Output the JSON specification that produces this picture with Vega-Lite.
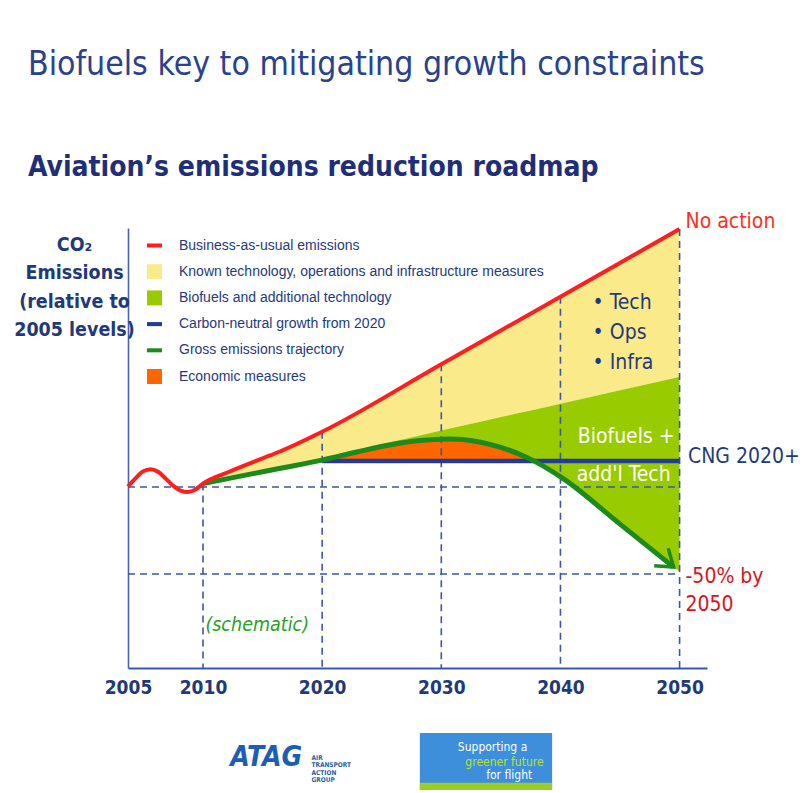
{
  "$schema": "https://vega.github.io/schema/vega-lite/v6.json",
  "width": 579,
  "height": 440,
  "autosize": "none",
  "padding": {"left": 128, "top": 228, "right": 96, "bottom": 125},
  "background": "white",
  "config": {"view": {"stroke": null}},
  "title": {
    "text": "Biofuels key to mitigating growth constraints",
    "subtitle": "Aviation’s emissions reduction roadmap",
    "anchor": "start",
    "frame": "group",
    "dx": -100,
    "offset": 28,
    "font": "DejaVu Sans Condensed, sans-serif",
    "fontSize": 33.5,
    "fontWeight": "normal",
    "color": "#2a4190",
    "subtitleFont": "DejaVu Sans Condensed, sans-serif",
    "subtitleFontSize": 28,
    "subtitleFontWeight": "bold",
    "subtitleColor": "#1e2f7a",
    "subtitlePadding": 72
  },
  "datasets": {
    "bands": [
      {"year": 2010, "bau": 102, "known": 102, "gross": 102, "cng": null},
      {"year": 2012.2, "bau": 108.8, "known": 105.2, "gross": 105.0, "cng": null},
      {"year": 2015, "bau": 116.5, "known": 109.3, "gross": 108.8, "cng": null},
      {"year": 2016.4, "bau": 120.3, "known": 111.4, "gross": 110.7, "cng": null},
      {"year": 2020, "bau": 131.8, "known": 117.0, "gross": 115.5, "cng": 115},
      {"year": 2023, "bau": 143.4, "known": 121.6, "gross": 120.3, "cng": 115},
      {"year": 2026, "bau": 155.1, "known": 126.3, "gross": 124.6, "cng": 115},
      {"year": 2028, "bau": 162.9, "known": 129.4, "gross": 126.6, "cng": 115},
      {"year": 2030.7, "bau": 173.3, "known": 133.6, "gross": 127.6, "cng": 115},
      {"year": 2033, "bau": 182.3, "known": 137.1, "gross": 126.2, "cng": 115},
      {"year": 2035, "bau": 190.0, "known": 140.2, "gross": 122.8, "cng": 115},
      {"year": 2037, "bau": 197.8, "known": 143.3, "gross": 117.6, "cng": 115},
      {"year": 2037.8, "bau": 200.9, "known": 144.5, "gross": 114.9, "cng": 115},
      {"year": 2040.2, "bau": 210.2, "known": 148.2, "gross": 105.0, "cng": 115},
      {"year": 2045, "bau": 228.9, "known": 155.7, "gross": 78.7, "cng": 115},
      {"year": 2049.5, "bau": 246.4, "known": 162.6, "gross": 54.0, "cng": 115},
      {"year": 2050, "bau": 248.3, "known": 163.4, "gross": 51.3, "cng": 115}
    ],
    "bau": [
      {"year": 2005, "bau": 100.3},
      {"year": 2005.5, "bau": 105},
      {"year": 2006, "bau": 109},
      {"year": 2006.5, "bau": 110.3},
      {"year": 2007, "bau": 108.8},
      {"year": 2007.5, "bau": 105},
      {"year": 2008, "bau": 100.8},
      {"year": 2008.5, "bau": 98},
      {"year": 2009, "bau": 97.2},
      {"year": 2009.5, "bau": 98.6},
      {"year": 2010, "bau": 102},
      {"year": 2012.2, "bau": 108.8},
      {"year": 2015, "bau": 116.5},
      {"year": 2016.4, "bau": 120.3},
      {"year": 2020, "bau": 131.8},
      {"year": 2030, "bau": 170.6},
      {"year": 2040, "bau": 209.4},
      {"year": 2050, "bau": 248.3}
    ],
    "vgrid": [
      {"year": 2010, "top": 102},
      {"year": 2020, "top": 131.8},
      {"year": 2030, "top": 170.6},
      {"year": 2040, "top": 209.4},
      {"year": 2050, "top": 248.3}
    ],
    "hgrid": [
      {"level": 100, "start": 2005, "end": 2050},
      {"level": 50, "start": 2005, "end": 2050}
    ],
    "notes": [
      {"t": "No action", "year": 2050.5, "v": 252.3, "g": "red"},
      {"t": "CNG 2020+", "year": 2050.7, "v": 117.2, "g": "navy"},
      {"t": "-50% by", "year": 2050.5, "v": 48.3, "g": "dred"},
      {"t": "2050", "year": 2050.5, "v": 32.2, "g": "dred"},
      {"t": "• Tech", "year": 2042.7, "v": 205.7, "g": "navy"},
      {"t": "• Ops", "year": 2042.7, "v": 188.5, "g": "navy"},
      {"t": "• Infra", "year": 2042.7, "v": 171.3, "g": "navy"},
      {"t": "Biofuels +", "year": 2041.45, "v": 128.7, "g": "white"},
      {"t": "add'l Tech", "year": 2041.36, "v": 106.9, "g": "white"},
      {"t": "(schematic)", "year": 2010.2, "v": 20.7, "g": "green"}
    ],
    "logo": [
      {"x": 2028.2, "x2": 2039.3, "y": -41.4, "y2": -74.1, "s1": -70.0}
    ],
    "logotext": [
      {"t": "ATAG", "year": 2015.3, "v": -55.5, "g": "atag"},
      {"t": "AIR|TRANSPORT|ACTION|GROUP", "year": 2019.1, "v": -55.5, "g": "atagsmall"},
      {"t": "Supporting a", "year": 2034.3, "v": -49.4, "g": "white"},
      {"t": "greener future", "year": 2035.3, "v": -58.0, "g": "lime"},
      {"t": "for flight", "year": 2035.7, "v": -65.5, "g": "white"}
    ]
  },
  "layer": [
    {
      "data": {"name": "bands"},
      "mark": {"type": "area", "color": "#fbea8a", "interpolate": "monotone"},
      "encoding": {
        "x": {
          "field": "year", "type": "quantitative",
          "scale": {"domain": [2005, 2010, 2052.3], "range": [0, 75, 579], "nice": false, "zero": false},
          "axis": {
            "values": [2005, 2010, 2020, 2030, 2040, 2050],
            "format": "d",
            "title": null,
            "grid": false,
            "ticks": false,
            "domainColor": "#3c56a8",
            "domainWidth": 2,
            "labelFont": "DejaVu Sans Condensed, sans-serif",
            "labelFontSize": 19,
            "labelFontWeight": "bold",
            "labelColor": "#1f3a7a",
            "labelPadding": 10,
            "labelFlush": false,
            "labelOverlap": false
          }
        },
        "y": {
          "field": "known", "type": "quantitative",
          "scale": {"domain": [-4, 248.9], "nice": false, "zero": false},
          "axis": {
            "grid": false,
            "ticks": false,
            "labels": false,
            "domainColor": "#4a62b2",
            "domainWidth": 1.6,
            "title": ["CO₂", "Emissions", "(relative to", "2005 levels)"],
            "titleAngle": 0,
            "titleX": -54,
            "titleY": 22,
            "titleAlign": "center",
            "titleBaseline": "alphabetic",
            "titleFont": "DejaVu Sans Condensed, sans-serif",
            "titleFontSize": 19.5,
            "titleFontWeight": "bold",
            "titleColor": "#1f3a7a",
            "titleLineHeight": 28.5
          }
        },
        "y2": {"field": "bau"}
      }
    },
    {
      "data": {"name": "bands"},
      "mark": {"type": "area", "color": "#99cc00", "interpolate": "monotone"},
      "encoding": {
        "x": {"field": "year", "type": "quantitative"},
        "y": {"field": "gross", "type": "quantitative"},
        "y2": {"field": "known"}
      }
    },
    {
      "data": {"name": "bands"},
      "transform": [{"filter": "datum.year >= 2020 && datum.year <= 2037.8"}],
      "mark": {"type": "area", "color": "#ff6600", "interpolate": "monotone"},
      "encoding": {
        "x": {"field": "year", "type": "quantitative"},
        "y": {"field": "gross", "type": "quantitative"},
        "y2": {"field": "cng"}
      }
    },
    {
      "data": {"name": "vgrid"},
      "mark": {"type": "rule", "color": "#3c56a8", "strokeWidth": 1.6, "strokeDash": [7, 5]},
      "encoding": {
        "x": {"field": "year", "type": "quantitative"},
        "y": {"field": "top", "type": "quantitative"},
        "y2": {"datum": -4}
      }
    },
    {
      "data": {"name": "hgrid"},
      "mark": {"type": "rule", "color": "#3c56a8", "strokeWidth": 1.6, "strokeDash": [7, 5]},
      "encoding": {
        "x": {"field": "start", "type": "quantitative"},
        "x2": {"field": "end"},
        "y": {"field": "level", "type": "quantitative"}
      }
    },
    {
      "data": {"name": "bands"},
      "transform": [{"filter": "datum.year >= 2020"}],
      "mark": {"type": "line", "color": "#233c96", "strokeWidth": 4.5},
      "encoding": {
        "x": {"field": "year", "type": "quantitative"},
        "y": {"field": "cng", "type": "quantitative"}
      }
    },
    {
      "data": {"name": "bands"},
      "transform": [{"filter": "datum.year <= 2049.5"}],
      "mark": {"type": "line", "color": "#1e8a1e", "strokeWidth": 5, "interpolate": "monotone"},
      "encoding": {
        "x": {"field": "year", "type": "quantitative"},
        "y": {"field": "gross", "type": "quantitative"}
      }
    },
    {
      "data": {"name": "bands"},
      "transform": [{"filter": "datum.year == 2049.5"}],
      "mark": {"type": "point", "shape": "M-1,-0.7L0,0L-1,0.7", "filled": false, "color": "#1e8a1e", "strokeWidth": 3.5, "size": 1024, "angle": 38.7, "opacity": 1},
      "encoding": {
        "x": {"field": "year", "type": "quantitative"},
        "y": {"field": "gross", "type": "quantitative"}
      }
    },
    {
      "data": {"name": "bau"},
      "mark": {"type": "line", "color": "#ff1e1e", "strokeWidth": 4, "interpolate": "monotone"},
      "encoding": {
        "x": {"field": "year", "type": "quantitative"},
        "y": {"field": "bau", "type": "quantitative"}
      }
    },
    {
      "data": {"name": "notes"},
      "transform": [{"filter": "datum.g == 'red'"}],
      "mark": {"type": "text", "align": "left", "baseline": "middle", "font": "DejaVu Sans Condensed, sans-serif", "fontSize": 21, "color": "#ff2d1f"},
      "encoding": {
        "x": {"field": "year", "type": "quantitative"},
        "y": {"field": "v", "type": "quantitative"},
        "text": {"field": "t"}
      }
    },
    {
      "data": {"name": "notes"},
      "transform": [{"filter": "datum.g == 'dred'"}],
      "mark": {"type": "text", "align": "left", "baseline": "middle", "font": "DejaVu Sans Condensed, sans-serif", "fontSize": 21, "color": "#d8141c"},
      "encoding": {
        "x": {"field": "year", "type": "quantitative"},
        "y": {"field": "v", "type": "quantitative"},
        "text": {"field": "t"}
      }
    },
    {
      "data": {"name": "notes"},
      "transform": [{"filter": "datum.g == 'navy'"}],
      "mark": {"type": "text", "align": "left", "baseline": "middle", "font": "DejaVu Sans Condensed, sans-serif", "fontSize": 21, "color": "#1f3a7a"},
      "encoding": {
        "x": {"field": "year", "type": "quantitative"},
        "y": {"field": "v", "type": "quantitative"},
        "text": {"field": "t"}
      }
    },
    {
      "data": {"name": "notes"},
      "transform": [{"filter": "datum.g == 'white'"}],
      "mark": {"type": "text", "align": "left", "baseline": "middle", "font": "DejaVu Sans Condensed, sans-serif", "fontSize": 21, "color": "#ffffff"},
      "encoding": {
        "x": {"field": "year", "type": "quantitative"},
        "y": {"field": "v", "type": "quantitative"},
        "text": {"field": "t"}
      }
    },
    {
      "data": {"name": "notes"},
      "transform": [{"filter": "datum.g == 'green'"}],
      "mark": {"type": "text", "align": "left", "baseline": "middle", "font": "DejaVu Sans Condensed, sans-serif", "fontSize": 19.5, "fontStyle": "italic", "color": "#27a027"},
      "encoding": {
        "x": {"field": "year", "type": "quantitative"},
        "y": {"field": "v", "type": "quantitative"},
        "text": {"field": "t"}
      }
    },
    {
      "data": {"name": "logo"},
      "mark": {"type": "rect", "color": "#3d8fdc"},
      "encoding": {
        "x": {"field": "x", "type": "quantitative"},
        "x2": {"field": "x2"},
        "y": {"field": "y", "type": "quantitative"},
        "y2": {"field": "y2"}
      }
    },
    {
      "data": {"name": "logo"},
      "mark": {"type": "rect", "color": "#9ccc2a"},
      "encoding": {
        "x": {"field": "x", "type": "quantitative"},
        "x2": {"field": "x2"},
        "y": {"field": "s1", "type": "quantitative"},
        "y2": {"field": "y2"}
      }
    },
    {
      "data": {"name": "logotext"},
      "transform": [{"filter": "datum.g == 'atag'"}],
      "mark": {"type": "text", "align": "center", "baseline": "middle", "font": "DejaVu Sans Condensed, sans-serif", "fontSize": 28, "fontWeight": "bold", "fontStyle": "italic", "color": "#1c5db5"},
      "encoding": {
        "x": {"field": "year", "type": "quantitative"},
        "y": {"field": "v", "type": "quantitative"},
        "text": {"field": "t"}
      }
    },
    {
      "data": {"name": "logotext"},
      "transform": [{"filter": "datum.g == 'atagsmall'"}],
      "mark": {"type": "text", "align": "left", "baseline": "middle", "lineBreak": "|", "lineHeight": 7.5, "font": "DejaVu Sans Condensed, sans-serif", "fontSize": 6.5, "fontWeight": "bold", "color": "#2a5fa8"},
      "encoding": {
        "x": {"field": "year", "type": "quantitative"},
        "y": {"field": "v", "type": "quantitative"},
        "text": {"field": "t"}
      }
    },
    {
      "data": {"name": "logotext"},
      "transform": [{"filter": "datum.g == 'white'"}],
      "mark": {"type": "text", "align": "center", "baseline": "middle", "font": "DejaVu Sans Condensed, sans-serif", "fontSize": 12, "color": "#ffffff"},
      "encoding": {
        "x": {"field": "year", "type": "quantitative"},
        "y": {"field": "v", "type": "quantitative"},
        "text": {"field": "t"}
      }
    },
    {
      "data": {"name": "logotext"},
      "transform": [{"filter": "datum.g == 'lime'"}],
      "mark": {"type": "text", "align": "center", "baseline": "middle", "font": "DejaVu Sans Condensed, sans-serif", "fontSize": 12, "color": "#b4e61e"},
      "encoding": {
        "x": {"field": "year", "type": "quantitative"},
        "y": {"field": "v", "type": "quantitative"},
        "text": {"field": "t"}
      }
    },
    {
      "data": {"values": [
        {"item": "Business-as-usual emissions"},
        {"item": "Known technology, operations and infrastructure measures"},
        {"item": "Biofuels and additional technology"},
        {"item": "Carbon-neutral growth from 2020"},
        {"item": "Gross emissions trajectory"},
        {"item": "Economic measures"}
      ]},
      "transform": [{"filter": "false"}],
      "mark": {"type": "point", "filled": true, "opacity": 1},
      "encoding": {
        "color": {
          "field": "item", "type": "nominal",
          "scale": {
            "domain": ["Business-as-usual emissions", "Known technology, operations and infrastructure measures", "Biofuels and additional technology", "Carbon-neutral growth from 2020", "Gross emissions trajectory", "Economic measures"],
            "range": ["#ff1e1e", "#fbea8a", "#99cc00", "#233c96", "#1e8a1e", "#ff6600"]
          },
          "legend": {
            "orient": "none",
            "legendX": 19,
            "legendY": 10,
            "title": null,
            "padding": 0,
            "symbolSize": 225,
            "symbolStrokeWidth": 0,
            "symbolOpacity": 1,
            "labelFont": "Liberation Sans, Arial, sans-serif",
            "labelFontSize": 14,
            "labelColor": "#1f3a7a",
            "labelLimit": 500,
            "labelOffset": 17,
            "rowPadding": 11.2
          }
        },
        "shape": {
          "field": "item", "type": "nominal",
          "scale": {
            "domain": ["Business-as-usual emissions", "Known technology, operations and infrastructure measures", "Biofuels and additional technology", "Carbon-neutral growth from 2020", "Gross emissions trajectory", "Economic measures"],
            "range": ["M-1,-0.27L1,-0.27L1,0.27L-1,0.27Z", "square", "square", "M-1,-0.27L1,-0.27L1,0.27L-1,0.27Z", "M-1,-0.27L1,-0.27L1,0.27L-1,0.27Z", "square"]
          }
        }
      }
    }
  ]
}
